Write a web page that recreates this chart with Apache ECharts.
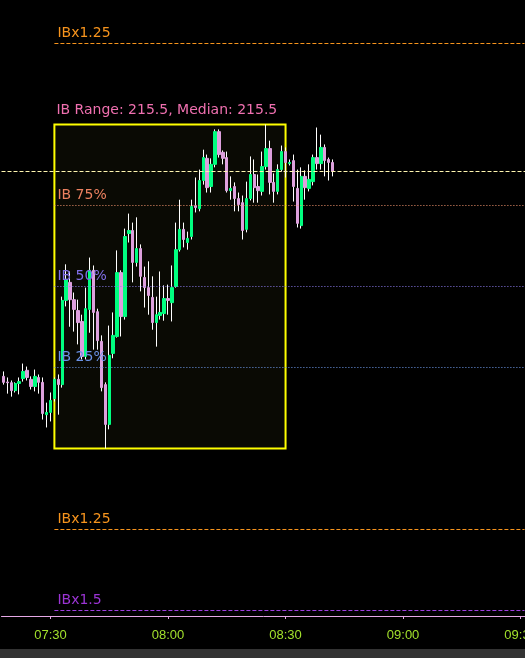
<!DOCTYPE html>
<html><head><meta charset="utf-8">
<script src="https://cdn.jsdelivr.net/npm/echarts@6/dist/echarts.min.js"></script>
<style>html,body{margin:0;padding:0;background:#000;overflow:hidden;}#c{width:525px;height:658px;}</style>
</head><body><div id="c"></div>
<script>
// ---- data ----
const firstMinute = 7 * 60 + 18;      // first slot 07:18, one-minute bars
const slotCount = 134;                // slots shown up to 09:31
const times = Array.from({length: slotCount}, (_, i) => {
  const m = firstMinute + i;
  return String(Math.floor(m / 60)).padStart(2, '0') + ':' + String(m % 60).padStart(2, '0');
});
const tickLabels = ['07:30', '08:00', '08:30', '09:00', '09:30'];

const open = [17898,17894.25,17893.75,17888.5,17893.25,17896.5,17902,17896,17891.25,17897.25,17894,17872.5,17874,17883.25,17896,17892.5,17948.5,17960.5,17949,17941.75,17934.5,17911.25,17942.5,17968.5,17941,17921.25,17892.5,17866,17913.25,17924.5,17967,17937.75,17993,17995,17973.75,17983,17963.75,17957,17950.5,17933.75,17938.5,17939.75,17949.75,17947,17957.75,17982.25,17995.75,17987,17991,18011.5,18009.5,18028.25,18043,18024.25,18039,18060.75,18047,18043.5,18021.5,18024.25,18016.25,18013.5,17995.75,18016.25,18032.25,18024.25,18021,18037.5,18049.5,18027,18021,18035.5,18047.5,18039.5,18041.5,18023,17998.25,18031,18023,18027.5,18043.5,18039.5,18050.25,18042.25,18040.25];
const close = [17894,17893.75,17888.5,17893.25,17894.5,17901.25,17897.25,17891.25,17898,17894,17873.25,17874,17882,17896,17892.5,17948.5,17962.5,17949,17942.5,17933.75,17911.25,17943,17968.5,17940.5,17921.75,17890.5,17866,17912,17925.25,17967,17937.75,17991,17995,17973.75,17983,17964.5,17957,17951.75,17933.75,17939,17940.5,17949.75,17948.5,17957,17982.25,17995.75,17989,17989.75,18011,18010.25,18028.25,18043.5,18023.5,18039,18060.75,18045.5,18043,18021.5,18023,18016.25,18012.25,17995,18016.25,18032.25,18023.5,18021.5,18037.5,18049.5,18027,18021,18035.5,18047.5,18040.25,18040.25,18024.25,17999.75,18031,18023.5,18029,18043.5,18039.5,18050.25,18041.5,18040.25,18034.25];
const high = [17901.25,17897.25,17895.25,17894,17897.25,17906.5,17904.5,17898,17902.5,17899.25,17897.25,17880.5,17887.25,17897.25,17899.25,17951,17972.5,17967.75,17953.75,17949,17939,17957,17977,17971.75,17943,17925.25,17894,17931.75,17940.5,17981.75,17968.5,17996.25,18006.25,18000.25,18003.75,17985.75,17971,17974.5,17964.5,17951,17967.75,17958.5,17959,17971.75,18000.25,18015.5,18000.25,17994.25,18015.5,18030.25,18035.5,18048.75,18045.5,18043,18062.25,18062.25,18048.25,18047.5,18031,18027,18020.25,18018.25,18027.5,18044.25,18042.25,18032.25,18047.5,18065.5,18054.75,18033,18039,18051.5,18050.25,18042.25,18045.5,18035.5,18037,18035,18039,18045.5,18063.5,18058.75,18052.25,18043.5,18042.25];
const low = [17892.5,17886.5,17884.5,17887.25,17886,17894.5,17895.25,17889.25,17888,17886.5,17869.25,17864,17868,17881.25,17872.5,17890.5,17944.5,17931,17927.75,17919.25,17909.25,17909.25,17927,17915.75,17915.75,17888,17850,17862.75,17910,17923.75,17924.5,17935.75,17987,17960.5,17971,17954.5,17943.75,17939,17929,17917.75,17935.75,17935,17939,17934.5,17957,17981,17983.75,17982.25,17989,18007,18007.75,18025.5,18020.25,18020.25,18037,18043.5,18039,18020.25,18015.5,18007.75,18007.75,17989,17993.75,18015,18013.5,18013.5,18018.25,18035.5,18019,18013.5,18019,18034.25,18030.25,18038.25,18014.25,17997,17996.25,18015.5,18021,18025,18035.5,18035.5,18031,18028.25,18031];

const ibStart = '07:31';
const ibEnd = '08:30';
const ibHigh = 18065.5;
const ibLow = 17850;
const ibMedian = 215.5;
const levelNames = ['IBx1.25', 'IB 75%', 'IB 50%', 'IB 25%', 'IBx1.25', 'IBx1.5'];
const levelFactors = [1.25, 0.75, 0.5, 0.25, -0.25, -0.5];
const lastPrice = close[close.length - 1];

// ---- styles ----
const levelColors = ['#f7941d', '#ec8160', '#7f6ee6', '#6a92e6', '#f7941d', '#9b34d4'];
const levelLineColors = ['#f7941d', '#f4956e', '#8c7cf0', '#6f9bee', '#f7941d', '#a040e0'];
const levelDash = [[4, 2], [1, 2], [1, 2], [1, 2], [4, 2], [4, 2]];
const txtFont = 'DejaVu Sans';

const ibRange = ibHigh - ibLow;
const isTick = (idx, val) => tickLabels.indexOf(val) >= 0;

const wickData = open.map((o, i) => [o, close[i], low[i], high[i]]);
const bodyData = open.map((o, i) => [o, close[i], Math.min(o, close[i]), Math.max(o, close[i])]);

const levelLines = levelFactors.map((f, i) => {
  const v = ibLow + f * ibRange;
  return [{
    coord: [ibStart, v],
    lineStyle: {color: levelLineColors[i], type: levelDash[i], width: 1},
    label: {show: true, formatter: levelNames[i], position: 'insideStartTop', distance: [3, 3],
      color: levelColors[i], fontSize: 14, fontFamily: txtFont}
  }, {coord: [times[times.length - 1], v]}];
});

const chart = echarts.init(document.getElementById('c'), null, {renderer: 'canvas'});
chart.setOption({
  animation: false,
  backgroundColor: '#000000',
  grid: {left: 1.5, right: -1.5, top: 0, bottom: 42, containLabel: false, outerBoundsMode: 'none'},
  xAxis: {
    type: 'category', data: times, boundaryGap: true,
    axisLine: {lineStyle: {color: '#e6a8e6', width: 1}},
    axisTick: {show: true, alignWithLabel: true, interval: isTick, length: 3, lineStyle: {color: '#e6a8e6'}},
    axisLabel: {interval: isTick, color: '#a2e02c', fontSize: 13, fontFamily: 'Liberation Sans', margin: 13, hideOverlap: false},
    splitLine: {show: false}
  },
  yAxis: {type: 'value', min: 17738.595, max: 18148.308, show: false, splitLine: {show: false}},
  graphic: [{type: 'rect', left: 0, top: 649, shape: {width: 525, height: 9}, style: {fill: '#333333'}, silent: true}],
  series: [
    {
      type: 'line', data: [], z: 1, silent: true,
      markArea: {
        silent: true,
        data: [[{
          coord: [ibStart, ibHigh],
          itemStyle: {color: '#0a0a04', borderColor: '#ffff00', borderWidth: 2},
          label: {show: true, position: [3, -20], formatter: 'IB Range: ' + ibRange.toFixed(1) + ', Median: ' + ibMedian.toFixed(1),
            color: '#f070b0', fontSize: 14, fontFamily: txtFont}
        }, {coord: [ibEnd, ibLow]}]]
      }
    },
    {
      type: 'line', data: [], z: 2, silent: true,
      markLine: {
        silent: true, symbol: ['none', 'none'],
        data: levelLines.concat([{yAxis: lastPrice, lineStyle: {color: '#fff6b0', type: [4, 2], width: 1}, label: {show: false}}])
      }
    },
    {
      type: 'candlestick', data: wickData, z: 3, barWidth: 1,
      itemStyle: {color: '#ffffff', color0: '#ffffff', borderColor: '#ffffff', borderColor0: '#ffffff', borderWidth: 1}
    },
    {
      type: 'candlestick', data: bodyData, z: 4, barWidth: 2.9,
      itemStyle: {color: '#00ff80', color0: '#dda0dd', borderColor: '#00ff80', borderColor0: '#dda0dd', borderWidth: 1}
    }
  ]
});
</script></body></html>
